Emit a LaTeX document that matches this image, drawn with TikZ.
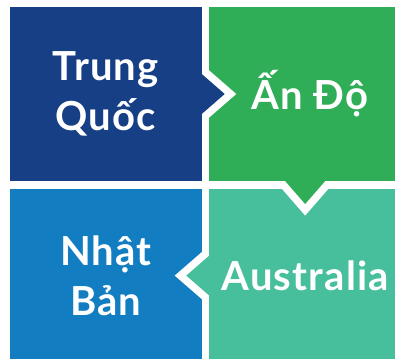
\documentclass[tikz,border=0pt]{standalone}
\usepackage{fontspec}
\setmainfont{Lato}[LetterSpace=3]
\usetikzlibrary{positioning}

\definecolor{chinablue}{HTML}{173F86}
\definecolor{indiagreen}{HTML}{30AD57}
\definecolor{austeal}{HTML}{47BF9C}
\definecolor{japanblue}{HTML}{127EC1}

\begin{document}
\begin{tikzpicture}[x=1pt, y=1pt, node distance=7.6pt,
                    tile/.style={rectangle, inner sep=0pt, outer sep=0pt,
                                 minimum width=191.7pt, minimum height=174pt,
                                 align=center, text=white,
                                 font=\fontsize{40}{50}\selectfont\bfseries},
                    pointer edge/.style={draw=white, line width=15.2pt, line join=miter}]
    \useasboundingbox (0,0) rectangle (395,358);
    \clip (0,0) rectangle (395,358);

    % the four tiles
    \node[tile, fill=chinablue]  (china)                  at (105.85,264) {Trung\\Quốc};
    \node[tile, fill=indiagreen] (india) [right=of china]                 {\hspace*{10pt}Ấn Độ};
    \node[tile, fill=austeal]    (aus)   [below=of india]                 {Australia};
    \node[tile, fill=japanblue]  (japan) [below=of china]                 {Nhật\\Bản};

    % pointers from one tile into the next
    \draw[pointer edge, shift={(china.east)}]             (0,20) -- (23,0) -- (0,-20);
    \fill[chinablue, shift={(china.east)}]                (-8,27) -- (23,0) -- (-8,-27) -- cycle;

    \draw[pointer edge, shift={(india.south)}, rotate=-90] (0,20) -- (23,0) -- (0,-20);
    \fill[indiagreen, shift={(india.south)}, rotate=-90]   (-8,27) -- (23,0) -- (-8,-27) -- cycle;

    \draw[pointer edge, shift={(aus.west)}, rotate=180]    (0,20) -- (23,0) -- (0,-20);
    \fill[austeal, shift={(aus.west)}, rotate=180]         (-8,27) -- (23,0) -- (-8,-27) -- cycle;
\end{tikzpicture}
\end{document}
